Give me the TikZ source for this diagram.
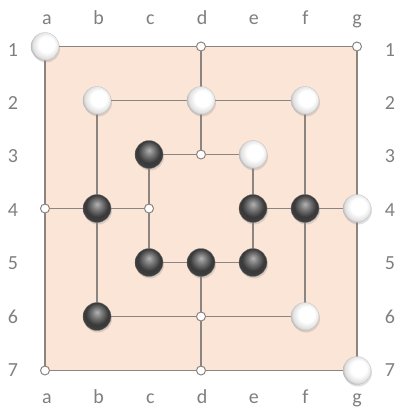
\documentclass[tikz,border=0pt]{standalone}
\usepackage{fontspec}
\setmainfont{Carlito}
\usetikzlibrary{shadows}
\definecolor{boardfill}{HTML}{FBE5D6}
\definecolor{gridline}{HTML}{8C8480}
\definecolor{lbl}{HTML}{7F7F7F}
\pgfdeclareradialshading{whiteball}{\pgfpoint{4bp}{5bp}}{color(0bp)=(white); color(14bp)=(white); color(24bp)=(black!12); color(30bp)=(black!38); color(50bp)=(black!40)}
\pgfdeclareradialshading{blackball}{\pgfpoint{0bp}{8bp}}{color(0bp)=(black!30); color(10bp)=(black!55); color(20bp)=(black!78); color(27bp)=(black!75); color(33bp)=(black!55); color(50bp)=(black!55)}
\tikzset{board/.style={x=1pt,y=-1pt,line width=1.2pt},
  spot/.style={circle,draw=gridline,fill=white,inner sep=0pt,minimum size=9pt,line width=1pt},
  wm/.style={circle,inner sep=0pt,minimum size=28pt,shade,shading=whiteball,draw=black!25,line width=.3pt,drop shadow={opacity=.25,shadow xshift=1pt,shadow yshift=-2pt}},
  bm/.style={wm,shading=blackball,draw=black!55},
  lb/.style={lbl,font=\fontsize{20}{24}\selectfont,anchor=base}}

\begin{document}
\begin{tikzpicture}[board]
  \useasboundingbox (0,0) rectangle (399,408);
  \foreach \c [count=\i from 0] in {a,b,c,d,e,f,g}{
    \foreach \r in {1,...,7}{\coordinate (\c\r) at (45+52*\i,46.5+54*\r-54);}
    \node[lb] (top\c) at (47+51.7*\i,24.5) {\c};
    \node[lb] (bot\c) at (47+51.7*\i,403) {\c};}
  \foreach \r in {1,...,7}{
    \node[lb] (lft\r) at (13,56+53.4*\r-53.4) {\r};
    \node[lb] (rgt\r) at (390,56+53.4*\r-53.4) {\r};}
  % board
  \fill[boardfill] (a1) rectangle (g7);
  \draw[gridline] (a1) rectangle (g7) (b2) rectangle (f6) (c3) rectangle (e5)
    (d1)--(d3) (d5)--(d7) (a4)--(c4) (e4)--(g4);
  % empty points and men
  \foreach \p in {d1,g1,d3,a4,c4,d6,a7,d7}{\node[spot] (s\p) at (\p) {};}
  \foreach \p in {a1,b2,d2,f2,e3,g4,f6,g7}{\node[wm] (w\p) at (\p) {};}
  \foreach \p in {c3,b4,e4,f4,c5,d5,e5,b6}{\node[bm] (b\p) at (\p) {};}
\end{tikzpicture}
\end{document}
